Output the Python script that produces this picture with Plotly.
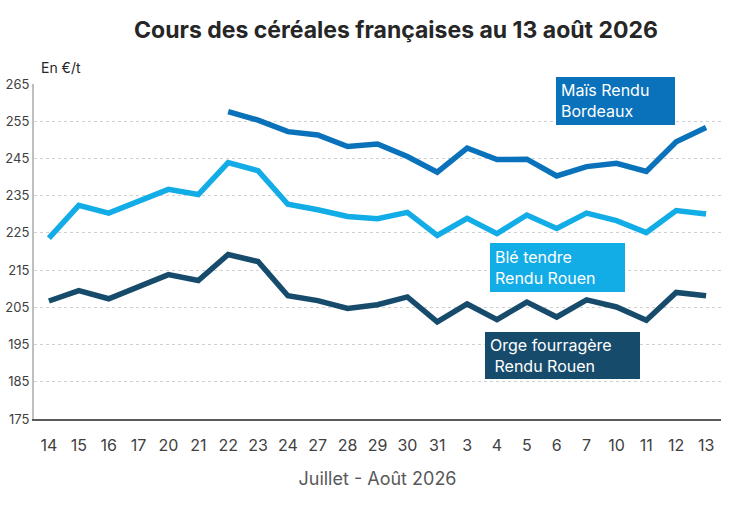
import plotly.graph_objects as go

days = ["14", "15", "16", "17", "20", "21", "22", "23", "24", "27", "28", "29", "30", "31",
        "3", "4", "5", "6", "7", "10", "11", "12", "13"]
xcat = [f"{i}" for i in range(len(days))]

mais = [None, None, None, None, None, None, 257.6, 255.3, 252.2, 251.3, 248.2, 248.9, 245.5,
        241.3, 247.8, 244.7, 244.8, 240.3, 242.8, 243.7, 241.5, 249.5, 253.3]
ble = [223.6, 232.4, 230.3, 233.7, 236.7, 235.3, 243.9, 241.7, 232.7, 231.2, 229.4, 228.8, 230.5,
       224.3, 228.9, 224.8, 229.8, 226.2, 230.3, 228.3, 225.1, 231.0, 230.1]
orge = [206.7, 209.5, 207.3, 210.6, 213.8, 212.2, 219.2, 217.3, 208.1, 206.8, 204.7, 205.7, 207.8,
        201.1, 205.9, 201.7, 206.4, 202.4, 207.0, 205.1, 201.5, 209.0, 208.1]
yticks = [175, 185, 195, 205, 215, 225, 235, 245, 255, 265]

c_mais = "#0A72BA"
c_ble = "#12ACE6"
c_orge = "#174B6C"

fig = go.Figure()
for vals, col, name in [(mais, c_mais, "Maïs Rendu Bordeaux"),
                        (ble, c_ble, "Blé tendre Rendu Rouen"),
                        (orge, c_orge, "Orge fourragère Rendu Rouen")]:
    fig.add_trace(go.Scatter(x=xcat, y=vals, mode="lines", name=name,
                             line=dict(color=col, width=5.5), connectgaps=False))

fnt = "Inter, Roboto, sans-serif"
fig.update_layout(
    width=747, height=513,
    margin=dict(l=34, r=26, t=84, b=94, autoexpand=False),
    paper_bgcolor="white", plot_bgcolor="white",
    showlegend=False,
    font=dict(family=fnt, color="#262626"),
    title=dict(text="<b>Cours des céréales françaises au 13 août 2026</b>",
               x=396 / 747, xanchor="center", y=1 - 30 / 513, yanchor="middle",
               font=dict(size=23, color="#262626", family=fnt)),
    xaxis=dict(type="category", range=[-0.5, len(days) - 0.5], automargin=False,
               tickmode="array", tickvals=xcat, ticktext=days,
               tickfont=dict(size=16, color="#404040"),
               showgrid=False, showline=True, linecolor="#595959", linewidth=1.5,
               ticks="", ticklabelstandoff=11,
               title=dict(text="Juillet - Août 2026", font=dict(size=18, color="#595959"),
                          standoff=18)),
    yaxis=dict(range=[175, 265], tickvals=yticks, automargin=False,
               tickfont=dict(size=13, color="#404040"),
               showgrid=True, gridcolor="#D0D0D0", griddash="dot", gridwidth=1,
               showline=True, linecolor="#BFBFBF", linewidth=2,
               ticks="", ticklabelstandoff=0, zeroline=False),
)

fig.add_annotation(xref="paper", yref="paper", x=(39 - 34) / 687, y=(419 - 68) / 335,
                   text="En €/t", showarrow=False, xanchor="left", yanchor="middle",
                   font=dict(size=14, color="#262626", family=fnt))

boxes = [
    ("Maïs Rendu<br>Bordeaux", c_mais, 556, 675, 77, 125),
    ("Blé tendre<br>Rendu Rouen", c_ble, 490, 625, 243, 292),
    ("Orge fourragère<br> Rendu Rouen", c_orge, 485, 640, 332, 379),
]
for txt, col, x0, x1, y0, y1 in boxes:
    fig.add_shape(type="rect", xref="paper", yref="paper",
                  x0=(x0 - 34) / 687, x1=(x1 - 34) / 687,
                  y0=(419 - y1) / 335, y1=(419 - y0) / 335,
                  fillcolor=col, line=dict(width=0), layer="above")
    fig.add_annotation(xref="paper", yref="paper", x=(x0 + 3 - 34) / 687,
                       y=(419 - (y0 + y1) / 2) / 335, text=txt, showarrow=False,
                       xanchor="left", yanchor="middle", align="left",
                       font=dict(size=16, color="white", family=fnt))

fig.write_html("out.html", config={"displayModeBar": False},
               post_script="document.body.style.margin='0';")
